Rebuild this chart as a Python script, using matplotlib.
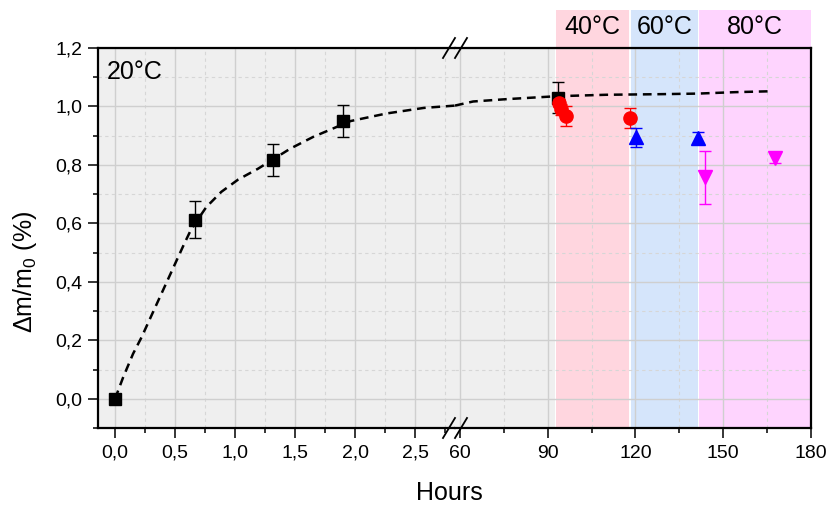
import matplotlib
matplotlib.use("Agg")
import matplotlib.pyplot as plt
from matplotlib.ticker import MultipleLocator, FixedLocator

plt.rcParams["font.family"] = ["Liberation Sans", "DejaVu Sans"]
plt.rcParams["mathtext.fontset"] = "custom"
plt.rcParams["mathtext.rm"] = "Liberation Sans"
plt.rcParams["mathtext.default"] = "rm"

# measured points (hours, dm/m0 in %, error)
sq_t = [0, 0.667, 1.317, 1.9, 93.4]
sq_v = [0, 0.613, 0.817, 0.95, 1.03]
sq_e = [0, 0.062, 0.055, 0.055, 0.053]

red_t = [94.0, 94.6, 96.3, 118.0]
red_v = [1.012, 0.99, 0.967, 0.96]
red_e = [0.015, 0.02, 0.034, 0.035]

blue_t = [120.3, 141.5]
blue_v = [0.894, 0.892]
blue_e = [0.032, 0.02]

mag_t = [143.9, 167.7]
mag_v = [0.757, 0.825]
mag_e = [0.09, 0.02]

# dashed fit curve
fit_t_left = [0, 0.067, 0.15, 0.22, 0.29, 0.36, 0.43, 0.50, 0.57, 0.635, 0.76,
              0.885, 1.025, 1.19, 1.46, 1.65, 1.96, 2.26, 2.57, 2.83]
fit_v_left = [0, 0.073, 0.154, 0.21, 0.273, 0.336, 0.399, 0.462, 0.525, 0.581, 0.656,
              0.708, 0.75, 0.787, 0.856, 0.896, 0.95, 0.976, 0.995, 1.003]
fit_t_right = [58.3, 64.5, 75.9, 93.0, 110.0, 128.2, 141.2, 154.3, 166.2]
fit_v_right = [1.003, 1.017, 1.025, 1.035, 1.04, 1.042, 1.044, 1.049, 1.052]

# temperature bands (hours)
bands = [(92.8, 117.7, "#FFD6DF", "40°C"),
         (118.3, 141.4, "#D5E5FB", "60°C"),
         (141.8, 180.0, "#FED4FE", "80°C")]
grey = "#EFEFEF"

W, H = 828, 507
fig = plt.figure(figsize=(W / 100, H / 100), dpi=100)
x0, xb, x1 = 98, 455, 811
ytop, ybot = 48, 428
axL = fig.add_axes([x0 / W, 1 - ybot / H, (xb - x0) / W, (ybot - ytop) / H])
axR = fig.add_axes([xb / W, 1 - ybot / H, (x1 - xb) / W, (ybot - ytop) / H])

comma = plt.FuncFormatter(lambda v, p: f"{v:.1f}".replace(".", ","))

axL.set_xlim(-0.142, 2.83)
axR.set_xlim(58.3, 180)
for ax in (axL, axR):
    ax.set_ylim(-0.1, 1.2)
    ax.set_axisbelow(True)
    ax.yaxis.set_major_locator(MultipleLocator(0.2))
    ax.yaxis.set_minor_locator(MultipleLocator(0.1))
    ax.grid(which="major", color="#cfcfcf", lw=1.0, ls="-")
    ax.grid(which="minor", color="#d6d6d6", lw=0.8, ls=(0, (3, 3)))
    ax.tick_params(which="major", length=7, width=1.1, labelsize=14, direction="out")
    ax.tick_params(which="minor", length=3.8, width=1.1, direction="out")
    for s in ax.spines.values():
        s.set_linewidth(1.6)

axL.set_facecolor(grey)
axL.xaxis.set_major_locator(MultipleLocator(0.5))
axL.xaxis.set_minor_locator(MultipleLocator(0.25))
axL.xaxis.set_major_formatter(comma)
axL.yaxis.set_major_formatter(comma)
axL.spines["right"].set_visible(False)
axL.tick_params(axis="x", pad=5)
axL.tick_params(axis="y", pad=4)

axR.xaxis.set_major_locator(FixedLocator([60, 90, 120, 150, 180]))
axR.xaxis.set_minor_locator(FixedLocator([75, 105, 135, 165]))
axR.spines["left"].set_visible(False)
axR.tick_params(axis="y", which="both", left=False, labelleft=False)
axR.tick_params(axis="x", pad=5)

axR.axvspan(58.3, 92.6, color=grey, lw=0, zorder=0.2)
top_ext = 1 + (ytop - 10) / (ybot - ytop)
for a, b, c, lab in bands:
    r = axR.axvspan(a, b, ymin=0, ymax=top_ext, color=c, lw=0, zorder=0.2)
    r.set_clip_on(False)
    axR.text((a + b) / 2, 1.055, lab, transform=axR.get_xaxis_transform(),
             ha="center", va="center", fontsize=18)

axL.text(0.025, 0.937, "20°C", transform=axL.transAxes, ha="left", va="center", fontsize=18)

# fit curve
axL.plot(fit_t_left, fit_v_left, ls=(0, (3.5, 2.3)), color="black", lw=1.8, zorder=3)
axR.plot(fit_t_right, fit_v_right, ls=(0, (3.5, 2.3)), color="black", lw=1.8, zorder=3)

ekw = dict(capsize=4, elinewidth=1, capthick=1, lw=0)
for ax in (axL, axR):
    lo, hi = ax.get_xlim()
    idx = [i for i, t in enumerate(sq_t) if lo <= t <= hi]
    ax.errorbar([sq_t[i] for i in idx], [sq_v[i] for i in idx], yerr=[sq_e[i] for i in idx],
                fmt="s", color="black", ms=8.5, zorder=4, **ekw)
axR.errorbar(red_t, red_v, yerr=red_e, fmt="o", color="#FF0000", ms=9.5, zorder=5, **ekw)
axR.errorbar(blue_t, blue_v, yerr=blue_e, fmt="^", color="#0000FF", ms=10, zorder=5, **ekw)
axR.errorbar(mag_t, mag_v, yerr=mag_e, fmt="v", color="#FF00FF", ms=10, zorder=5, **ekw)

# axis break marks
for yb in (ytop, ybot):
    for xc in (449, 461):
        fig.add_artist(plt.Line2D([(xc - 6) / W, (xc + 6) / W],
                                  [1 - (yb + 10) / H, 1 - (yb - 10) / H],
                                  color="black", lw=1.3))

fig.text(449 / W, 1 - 493 / H, "Hours", ha="center", va="center", fontsize=18)
fig.text(25 / W, 1 - 272 / H, "Δm/m$_0$ (%)", ha="center", va="center", rotation=90, fontsize=18)

fig.savefig("out.png", dpi=100)
